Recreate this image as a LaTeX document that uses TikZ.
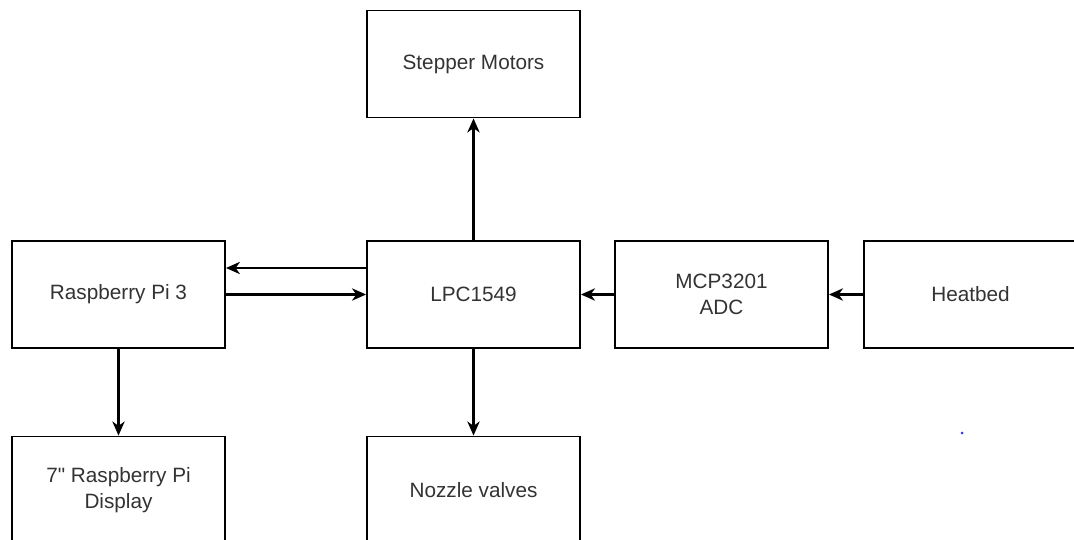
\documentclass[tikz,border=0pt]{standalone}
\usepackage{fontspec}
\setmainfont{Liberation Sans}
\usetikzlibrary{arrows.meta}

\tikzset{
    block/.style={draw, line width=1.1pt, rectangle, minimum width=4.26cm, minimum height=2.14cm,
        align=center, text=black!80, font=\fontsize{11.8}{14.5}\selectfont},
    link/.style={->, line width=1.3pt},
}

\begin{document}
\begin{tikzpicture}[x=0.02cm, y=-0.02cm, >={Stealth[length=8pt, width=7pt, inset=2.5pt]}]
    \clip (0,0) rectangle (1074,540);
    \fill[white] (0,0) rectangle (1074,540);

    \node[block] (stepper) at (473.5,64)  {Stepper Motors};
    \node[block] (rpi)     at (118.5,294.5) {Raspberry Pi 3};
    \node[block] (lpc)     at (473.5,294.5) {LPC1549};
    \node[block] (adc)     at (721.5,294.5) {MCP3201\\ADC};
    \node[block] (heat)    at (970.5,294.5) {Heatbed};
    \node[block] (display) at (118.5,490) {7\textquotedbl{} Raspberry Pi\\Display};
    \node[block] (nozzle)  at (473.5,490) {Nozzle valves};

    \coordinate (back) at (0,268);

    \draw[link] (lpc.north) -- (stepper.south);
    \draw[link] (lpc.west |- back) -- (rpi.east |- back);
    \draw[link] (rpi.east) -- (lpc.west);
    \draw[link] (adc.west) -- (lpc.east);
    \draw[link] (heat.west) -- (adc.east);
    \draw[link] (rpi.south) -- (display.north);
    \draw[link] (lpc.south) -- (nozzle.north);

    \fill[blue!80] (962,433) circle (1.5);
\end{tikzpicture}
\end{document}
